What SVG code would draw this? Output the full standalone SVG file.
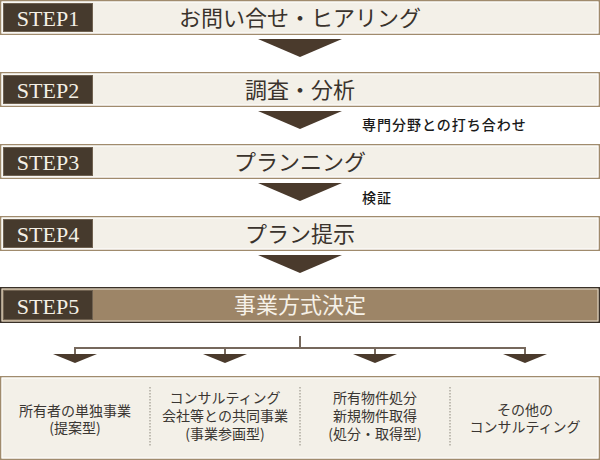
<svg xmlns="http://www.w3.org/2000/svg" width="600" height="460" viewBox="0 0 600 460">
<defs>
<style>
.box{fill:#f3f0e8;stroke:#a08b6d;stroke-width:1.5}
.inner{fill:none;stroke:#ffffff;stroke-width:1}
.lbl{fill:#463a2d;stroke:#6f6150;stroke-width:1}
.step{font-family:"Liberation Serif",serif;font-size:22px;fill:#f4f0e6;text-anchor:middle}
.title{font-family:"Noto Sans CJK JP",sans-serif;font-size:22px;fill:#3a332c;text-anchor:middle}
.note{font-family:"Noto Sans CJK JP",sans-serif;font-size:14px;font-weight:500;fill:#1a1a1a;letter-spacing:1px}
.arrow{fill:#4a3a2c}
.conn{stroke:#76685c;stroke-width:2;fill:none}
.opt{font-family:"Noto Sans CJK JP",sans-serif;font-size:14px;fill:#3a3632;text-anchor:middle}
.sep{stroke:#b0aaa0;stroke-width:1.5;stroke-dasharray:1.5 1.5}
</style>
</defs>
<g id="step1">
<rect class="box" x="0.75" y="0.75" width="598.5" height="33.5"/>
<rect class="inner" x="2" y="2" width="596" height="31"/>
<rect class="lbl" x="3.5" y="3.5" width="89" height="28"/>
<text class="step" x="48" y="26">STEP1</text>
<text class="title" x="300" y="25.5">お問い合せ・ヒアリング</text>
</g>
<g id="step2">
<rect class="box" x="0.75" y="72.75" width="598.5" height="33.5"/>
<rect class="inner" x="2" y="74" width="596" height="31"/>
<rect class="lbl" x="3.5" y="75.5" width="89" height="28"/>
<text class="step" x="48" y="98">STEP2</text>
<text class="title" x="300" y="97.5">調査・分析</text>
</g>
<g id="step3">
<rect class="box" x="0.75" y="144.75" width="598.5" height="33.5"/>
<rect class="inner" x="2" y="146" width="596" height="31"/>
<rect class="lbl" x="3.5" y="147.5" width="89" height="28"/>
<text class="step" x="48" y="170">STEP3</text>
<text class="title" x="300" y="169.5">プランニング</text>
</g>
<g id="step4">
<rect class="box" x="0.75" y="216.75" width="598.5" height="33.5"/>
<rect class="inner" x="2" y="218" width="596" height="31"/>
<rect class="lbl" x="3.5" y="219.5" width="89" height="28"/>
<text class="step" x="48" y="242">STEP4</text>
<text class="title" x="300" y="241.5">プラン提示</text>
</g>
<g id="step5">
<rect x="0.75" y="287.75" width="598.5" height="34.5" fill="#9d8567" stroke="#3a3129" stroke-width="1.5"/>
<rect x="2" y="289" width="596" height="32" fill="none" stroke="#e8dfd0" stroke-width="1"/>
<rect class="lbl" x="3.5" y="290.5" width="89" height="29"/>
<text class="step" x="48" y="313.5">STEP5</text>
<text class="title" x="300" y="313" fill="#f6f1e8" style="fill:#f6f1e8">事業方式決定</text>
</g>
<g id="connectors">
<polygon class="arrow" points="258,39 342,39 300,57"/>
<polygon class="arrow" points="258,111 342,111 300,129"/>
<polygon class="arrow" points="258,183 342,183 300,201"/>
<polygon class="arrow" points="258,255 342,255 300,273"/>
<path class="conn" d="M300,336 V348 M75,348 H525 M75,347 V355 M225,347 V355 M375,347 V355 M525,347 V355"/>
<polygon class="arrow" points="53,354 97,354 75,363"/>
<polygon class="arrow" points="203,354 247,354 225,363"/>
<polygon class="arrow" points="353,354 397,354 375,363"/>
<polygon class="arrow" points="503,354 547,354 525,363"/>
</g>
<g id="notes">
<text class="note" x="362" y="130">専門分野との打ち合わせ</text>
<text class="note" x="362" y="203">検証</text>
</g>
<g id="options">
<rect class="box" x="0.75" y="376.75" width="598.5" height="82.5"/>
<rect class="inner" x="2" y="378" width="596" height="80"/>
<line class="sep" x1="150" y1="387" x2="150" y2="447"/>
<line class="sep" x1="300" y1="387" x2="300" y2="447"/>
<line class="sep" x1="450" y1="387" x2="450" y2="447"/>
<g id="opt1">
<text class="opt" x="75" y="416">所有者の単独事業</text>
<text class="opt" x="75" y="433">(提案型)</text>
</g>
<g id="opt2">
<text class="opt" x="225" y="403">コンサルティング</text>
<text class="opt" x="225" y="421">会社等との共同事業</text>
<text class="opt" x="225" y="439">(事業参画型)</text>
</g>
<g id="opt3">
<text class="opt" x="375" y="403">所有物件処分</text>
<text class="opt" x="375" y="421">新規物件取得</text>
<text class="opt" x="375" y="439">(処分・取得型)</text>
</g>
<g id="opt4">
<text class="opt" x="525" y="415">その他の</text>
<text class="opt" x="525" y="432">コンサルティング</text>
</g>
</g>
</svg>
